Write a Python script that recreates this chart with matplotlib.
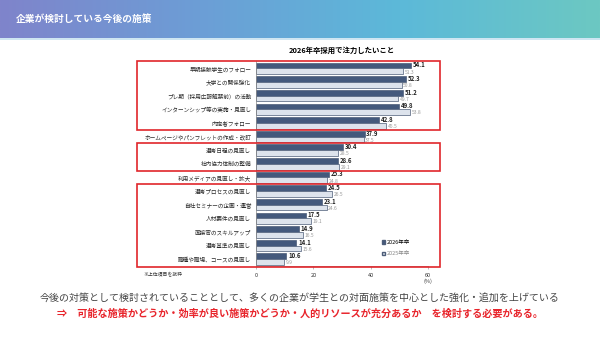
import numpy as np
import matplotlib.pyplot as plt
from matplotlib.colors import LinearSegmentedColormap
from matplotlib.patches import Rectangle, Patch
from matplotlib.transforms import blended_transform_factory

plt.rcParams['font.family'] = ['Noto Sans CJK JP', 'DejaVu Sans']

categories = [
    "早期接触学生のフォロー",
    "大学との関係強化",
    "プレ期（採用広報解禁前）の活動",
    "インターンシップ等の実施・見直し",
    "内定者フォロー",
    "ホームページやパンフレットの作成・改訂",
    "選考日程の見直し",
    "社内協力体制の整備",
    "利用メディアの見直し・拡大",
    "選考プロセスの見直し",
    "自社セミナーの企画・運営",
    "人材要件の見直し",
    "面接官のスキルアップ",
    "選考基準の見直し",
    "職種や職場、コースの見直し",
]
vals_2026 = [54.1, 52.3, 51.2, 49.8, 42.8, 37.9, 30.4, 28.6, 25.3, 24.5, 23.1, 17.5, 14.9, 14.1, 10.6]
vals_2025 = [51.3, 50.8, 49.7, 53.8, 45.5, 37.5, 28.5, 29.1, 24.8, 26.5, 24.6, 19.1, 16.5, 15.6, 9.9]
# 赤枠で囲まれた行 (開始, 終了)
highlight_groups = [(0, 4), (6, 7), (9, 14)]

DARK = "#44597c"
LIGHT = "#dde3ec"
EDGE = "#4d5d78"

fig = plt.figure(figsize=(6, 3.37), dpi=100)
fig.patch.set_facecolor("white")

# ヘッダー帯
hax = fig.add_axes([0, 1 - 38 / 337, 1, 38 / 337])
cmap = LinearSegmentedColormap.from_list("hdr", ["#7f84cb", "#6c9ed6", "#5cb9d9", "#6cc8c2"])
grad = np.linspace(0, 1, 256).reshape(1, -1)
hax.imshow(grad, aspect="auto", cmap=cmap, extent=[0, 1, 0, 1])
hax.set_axis_off()
hax.text(0.027, 0.5, "企業が検討している今後の施策", color="white", fontsize=7,
         fontweight="bold", va="center", ha="left", transform=hax.transAxes)
fig.add_artist(Rectangle((0, 1 - 40 / 337), 1, 2 / 337, transform=fig.transFigure,
                         facecolor="#cfe6f2", edgecolor="none"))

# グラフ本体
ax = fig.add_axes([256 / 600, 1 - 266 / 337, 172 / 600, 205 / 337])
y = np.arange(len(categories))
h = 0.42
ax.barh(y - h / 2, vals_2026, height=h, color=DARK, edgecolor=EDGE, linewidth=0.5)
ax.barh(y + h / 2, vals_2025, height=h, color=LIGHT, edgecolor=EDGE, linewidth=0.5)

for i in range(len(categories)):
    ax.text(vals_2026[i] + 0.6, y[i] - h / 2 - 0.05, f"{vals_2026[i]:.1f}", fontsize=4.3,
            color="#222222", va="center", ha="left", fontweight="bold")
    ax.text(vals_2025[i] + 0.6, y[i] + h / 2 + 0.05, f"{vals_2025[i]:.1f}", fontsize=3.6,
            color="#999999", va="center", ha="left")

ax.set_xlim(0, 60)
ax.set_ylim(len(categories) - 0.5, -0.55)
ax.set_yticks(y)
ax.set_yticklabels(categories, fontsize=4.1, color="#2a2a2a")
ax.tick_params(axis="y", length=0, pad=3.5)
ax.set_xticks([0, 20, 40, 60])
ax.set_xticklabels(["0", "20", "40", "60\n(%)"], fontsize=4, color="#333333")
ax.tick_params(axis="x", length=2, width=0.4, color="#888888", pad=3)
for side in ["top", "right"]:
    ax.spines[side].set_visible(False)
ax.spines["left"].set_color("#888888")
ax.spines["left"].set_linewidth(0.5)
ax.spines["bottom"].set_color("#888888")
ax.spines["bottom"].set_linewidth(0.5)
ax.set_facecolor("none")

ax.set_title("2026年卒採用で注力したいこと", fontsize=5.3, fontweight="bold", pad=6)

leg = ax.legend(handles=[Patch(facecolor=DARK, edgecolor=EDGE, label="2026年卒"),
                         Patch(facecolor=LIGHT, edgecolor=EDGE, label="2025年卒")],
                loc="upper left", bbox_to_anchor=(0.71, 0.145), frameon=False,
                fontsize=4, handlelength=0.6, handleheight=0.6, handletextpad=0.2,
                labelspacing=1.1, borderpad=0.2)
leg.get_texts()[1].set_color("#888888")

# 赤枠
trans = blended_transform_factory(fig.transFigure, ax.transData)
for start, end in highlight_groups:
    top = start - 0.55
    bottom = end + 0.55
    fig.add_artist(Rectangle((137 / 600, top), (440 - 137) / 600, bottom - top,
                             transform=trans, facecolor="none", edgecolor="#e0262b",
                             linewidth=1.2, clip_on=False))

fig.text(143 / 600, 1 - 275 / 337, "※上位項目を抜粋", fontsize=3.5, color="#333333",
         va="center", ha="left")

fig.text(0.5, 1 - 299 / 337,
         "今後の対策として検討されていることとして、多くの企業が学生との対面施策を中心とした強化・追加を上げている",
         fontsize=7.2, color="#444444", ha="center", va="center")
fig.text(0.5, 1 - 314 / 337,
         "⇒　可能な施策かどうか・効率が良い施策かどうか・人的リソースが充分あるか　を検討する必要がある。",
         fontsize=7.3, color="#e8242b", fontweight="bold", ha="center", va="center")

fig.savefig("out.png", dpi=100)
